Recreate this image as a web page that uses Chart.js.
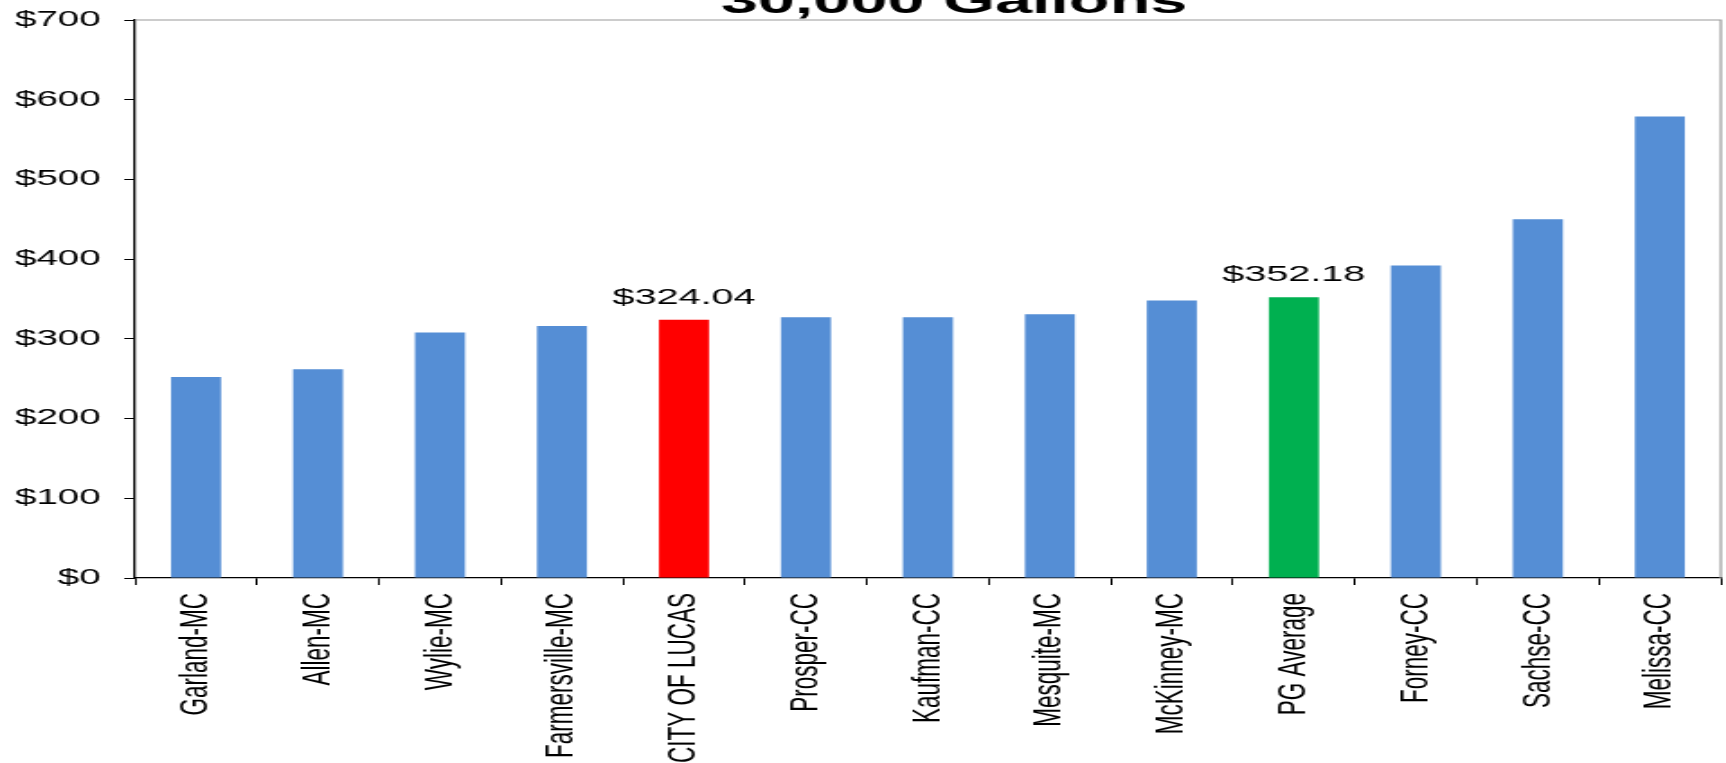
<!DOCTYPE html>
<html>
<head>
<meta charset="utf-8">
<script src="https://cdn.jsdelivr.net/npm/chart.js@4.4.0/dist/chart.umd.min.js"></script>
<style>
  html, body { margin: 0; padding: 0; background: #fff; overflow: hidden; }
  /* the original picture is stretched wide, so the whole chart is scaled in x */
  #wrap { width: 959px; height: 763px; transform: scaleX(1.8); transform-origin: 0 0; }
</style>
</head>
<body>
<div id="wrap"><canvas id="billChart" width="959" height="763"></canvas></div>
<script>
const chartTitle = "30,000 Gallons";
const cities = ["Garland-MC", "Allen-MC", "Wylie-MC", "Farmersville-MC", "CITY OF LUCAS", "Prosper-CC",
  "Kaufman-CC", "Mesquite-MC", "McKinney-MC", "PG Average", "Forney-CC", "Sachse-CC", "Melissa-CC"];
const bills = [252, 262, 308, 316, 324.04, 327, 327, 331, 348, 352.18, 392, 450, 579];
const barColors = ["#558ED5", "#558ED5", "#558ED5", "#558ED5", "#FF0000", "#558ED5",
  "#558ED5", "#558ED5", "#558ED5", "#00B050", "#558ED5", "#558ED5", "#558ED5"];
const labeledCities = ["CITY OF LUCAS", "PG Average"];
const yMin = 0, yMax = 700, yStep = 100;

Chart.defaults.font.family = "'Liberation Sans', Arial, sans-serif";
Chart.defaults.color = "#000";

const money = (v) => "$" + v.toFixed(2);

const framePlugin = {
  id: "frame",
  beforeDatasetsDraw(chart) {
    const { ctx, chartArea: a } = chart;
    ctx.save();
    ctx.strokeStyle = "#9a9a9a";
    ctx.lineWidth = 1.2;
    ctx.beginPath();
    ctx.moveTo(a.left, a.top);
    ctx.lineTo(a.right, a.top);
    ctx.lineTo(a.right, a.bottom);
    ctx.stroke();
    ctx.restore();
  },
  afterDraw(chart) {
    const { ctx } = chart;
    ctx.save();
    ctx.font = "bold 37px 'Liberation Sans', Arial, sans-serif";
    ctx.fillStyle = "#000";
    ctx.textAlign = "center";
    ctx.textBaseline = "alphabetic";
    ctx.fillText(chartTitle, 530, 13);
    ctx.restore();
  }
};

const valueLabels = {
  id: "valueLabels",
  afterDatasetsDraw(chart) {
    const { ctx } = chart;
    const meta = chart.getDatasetMeta(0);
    ctx.save();
    ctx.font = "22px 'Liberation Sans', Arial, sans-serif";
    ctx.fillStyle = "#000";
    ctx.textAlign = "center";
    ctx.textBaseline = "alphabetic";
    cities.forEach((c, i) => {
      if (!labeledCities.includes(c)) return;
      const bar = meta.data[i];
      ctx.fillText(money(bills[i]), bar.x, bar.y - 16);
    });
    ctx.restore();
  }
};

new Chart(document.getElementById("billChart"), {
  type: "bar",
  data: {
    labels: cities,
    datasets: [{
      data: bills,
      backgroundColor: barColors,
      barPercentage: 0.41,
      categoryPercentage: 1
    }]
  },
  options: {
    responsive: false,
    animation: false,
    devicePixelRatio: 1,
    layout: { padding: { top: 20, right: 3, left: 0, bottom: 0 } },
    plugins: { legend: { display: false }, tooltip: { enabled: false } },
    scales: {
      x: {
        grid: { drawOnChartArea: false, color: "#000", tickLength: 7, offset: true },
        border: { color: "#000", width: 1.3 },
        ticks: { minRotation: 90, maxRotation: 90, padding: 8, font: { size: 22.5 }, autoSkip: false },
        afterFit(scale) { scale.height = 185; }
      },
      y: {
        min: yMin,
        max: yMax,
        grid: { drawOnChartArea: false, color: "#000", tickLength: 6 },
        border: { color: "#000", width: 1.3 },
        ticks: { stepSize: yStep, padding: 13, font: { size: 21.5 }, callback: (v) => "$" + v },
        afterFit(scale) {
          scale.width = 75;
          scale.paddingTop = 10;
          scale.paddingBottom = 10;
        }
      }
    }
  },
  plugins: [framePlugin, valueLabels]
});
</script>
</body>
</html>
